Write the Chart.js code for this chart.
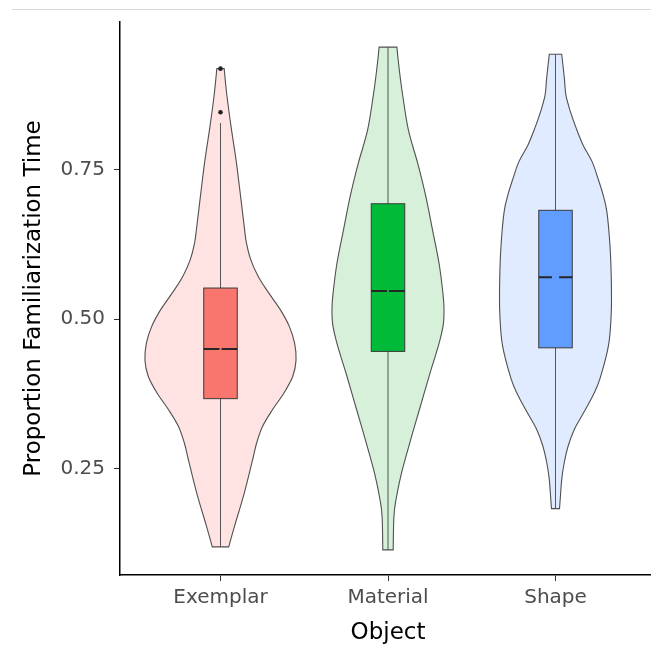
<!DOCTYPE html>
<html><head><meta charset="utf-8">
<script src="https://cdn.jsdelivr.net/npm/chart.js@4.4.1/dist/chart.umd.min.js"></script>
<style>
html,body{margin:0;padding:0;background:#fff;overflow:hidden;width:651px;height:655px;}
#wrap{position:absolute;left:0;top:0;width:660px;height:655px;}
#topline{position:absolute;left:12px;top:9px;width:639px;height:1px;background:#d9d9d9;}
</style></head><body>
<div id="wrap"><canvas id="c" width="660" height="655"></canvas></div>
<div id="topline"></div>
<script>
// ---- data ----
const categories = ['Exemplar', 'Material', 'Shape'];
const yTickValues = [0.25, 0.50, 0.75];

// violin outlines: value (y) and half-width (in category units)
const exemplarDensityY = [0.919,0.877,0.822,0.766,0.710,0.654,0.627,0.599,0.571,0.543,0.515,0.487,0.459,0.431,0.404,0.376,0.348,0.320,0.292,0.264,0.209,0.153,0.119];
const exemplarHalfWidth = [0.022,0.037,0.063,0.093,0.118,0.142,0.155,0.181,0.226,0.290,0.359,0.412,0.443,0.451,0.431,0.378,0.309,0.250,0.215,0.191,0.142,0.083,0.049];

const materialDensityY = [0.955,0.928,0.900,0.872,0.816,0.760,0.705,0.649,0.593,0.548,0.521,0.493,0.465,0.437,0.409,0.353,0.298,0.242,0.197,0.169,0.114];
const materialHalfWidth = [0.053,0.063,0.075,0.089,0.122,0.178,0.226,0.266,0.305,0.326,0.334,0.331,0.310,0.281,0.250,0.192,0.135,0.080,0.047,0.035,0.031];

const shapeDensityY = [0.943,0.903,0.875,0.847,0.819,0.791,0.763,0.735,0.707,0.679,0.624,0.568,0.512,0.457,0.401,0.373,0.345,0.317,0.289,0.261,0.234,0.206,0.183];
const shapeHalfWidth = [0.037,0.053,0.062,0.089,0.124,0.165,0.219,0.254,0.285,0.307,0.325,0.333,0.333,0.317,0.266,0.225,0.171,0.115,0.077,0.053,0.038,0.030,0.024];

// box plot statistics
const lowerWhisker = [0.119, 0.114, 0.183];
const q1Values     = [0.367, 0.446, 0.452];
const medianValues = [0.450, 0.547, 0.570];
const q3Values     = [0.552, 0.693, 0.682];
const upperWhisker = [0.828, 0.955, 0.943];
const exemplarOutliers = [0.846, 0.919];

// ---- styles ----
const violinFill = ['#FEE3E2', '#D7F0DA', '#E0EBFF'];
const boxFill = ['#F8766D', '#00BA38', '#619CFF'];
const medianGap = [0.012, 0.012, 0.043];
const boxHalf = 0.1;

const violins = [
  {y: exemplarDensityY, w: exemplarHalfWidth},
  {y: materialDensityY, w: materialHalfWidth},
  {y: shapeDensityY, w: shapeHalfWidth}
];

function smoothPath(ctx, pts, first) {
  if (first) ctx.moveTo(pts[0].x, pts[0].y); else ctx.lineTo(pts[0].x, pts[0].y);
  for (let i = 0; i < pts.length - 1; i++) {
    const p0 = pts[i - 1] || pts[i], p1 = pts[i], p2 = pts[i + 1], p3 = pts[i + 2] || p2;
    ctx.bezierCurveTo(p1.x + (p2.x - p0.x) / 6, p1.y + (p2.y - p0.y) / 6,
                      p2.x - (p3.x - p1.x) / 6, p2.y - (p3.y - p1.y) / 6, p2.x, p2.y);
  }
}

const violinPlugin = {
  id: 'violinBox',
  beforeDatasetsDraw(chart) {
    const ctx = chart.ctx, xs = chart.scales.x, ys = chart.scales.y;
    ctx.save();
    violins.forEach((v, i) => {
      const cx = i + 1;
      const idx = v.y.map((_, k) => k).sort((a, b) => v.y[a] - v.y[b]);
      const right = idx.map(k => ({x: xs.getPixelForValue(cx + v.w[k]), y: ys.getPixelForValue(v.y[k])}));
      const left = idx.slice().reverse().map(k => ({x: xs.getPixelForValue(cx - v.w[k]), y: ys.getPixelForValue(v.y[k])}));
      ctx.beginPath();
      smoothPath(ctx, right, true);
      smoothPath(ctx, left, false);
      ctx.closePath();
      ctx.fillStyle = violinFill[i];
      ctx.fill();
      ctx.lineWidth = 1.1;
      ctx.strokeStyle = '#505050';
      ctx.stroke();

      // whisker
      const px = xs.getPixelForValue(cx);
      ctx.beginPath();
      ctx.moveTo(px, ys.getPixelForValue(lowerWhisker[i]));
      ctx.lineTo(px, ys.getPixelForValue(upperWhisker[i]));
      ctx.strokeStyle = '#555';
      ctx.lineWidth = 1;
      ctx.stroke();

      // box
      const bl = xs.getPixelForValue(cx - boxHalf), br = xs.getPixelForValue(cx + boxHalf);
      const bt = ys.getPixelForValue(q3Values[i]), bb = ys.getPixelForValue(q1Values[i]);
      ctx.fillStyle = boxFill[i];
      ctx.fillRect(bl, bt, br - bl, bb - bt);
      ctx.strokeStyle = '#3a3a3a';
      ctx.lineWidth = 1;
      ctx.strokeRect(bl, bt, br - bl, bb - bt);

      // median
      const my = ys.getPixelForValue(medianValues[i]);
      const g1 = xs.getPixelForValue(cx - medianGap[i] / 2), g2 = xs.getPixelForValue(cx + medianGap[i] / 2);
      ctx.beginPath();
      ctx.moveTo(bl, my); ctx.lineTo(g1, my);
      ctx.moveTo(g2, my); ctx.lineTo(br, my);
      ctx.strokeStyle = '#262626';
      ctx.lineWidth = 2;
      ctx.stroke();
    });
    ctx.restore();
  }
};

const tickFont = {family: 'DejaVu Sans', size: 20};
const titleFont = {family: 'DejaVu Sans', size: 23};

new Chart(document.getElementById('c'), {
  type: 'scatter',
  data: {
    datasets: [{
      label: 'Outliers',
      data: exemplarOutliers.map(v => ({x: 1, y: v})),
      pointRadius: 2.3,
      pointBackgroundColor: '#222',
      pointBorderWidth: 0
    }]
  },
  options: {
    responsive: false,
    animation: false,
    layout: {padding: {top: 22, right: 0, bottom: 0, left: 0}},
    plugins: {legend: {display: false}, tooltip: {enabled: false}},
    scales: {
      x: {
        type: 'linear', min: 0.4, max: 3.6,
        afterBuildTicks: s => { s.ticks = categories.map((c, i) => ({value: i + 1})); },
        afterFit: s => { s.height = 80; },
        ticks: {callback: v => categories[v - 1], font: tickFont, color: '#4d4d4d', padding: 5, autoSkip: false, maxRotation: 0},
        grid: {drawOnChartArea: false, drawTicks: true, tickLength: 6, color: '#333', lineWidth: 1},
        border: {display: true, color: '#000', width: 1.5},
        title: {display: true, text: 'Object', font: titleFont, color: '#000', padding: {top: 0, bottom: 8}}
      },
      y: {
        type: 'linear', min: 0.072, max: 0.997,
        afterBuildTicks: s => { s.ticks = yTickValues.map(v => ({value: v})); },
        afterFit: s => { s.width = 120; },
        ticks: {callback: v => v.toFixed(2), font: tickFont, color: '#4d4d4d', padding: 9},
        grid: {drawOnChartArea: false, drawTicks: true, tickLength: 6, color: '#333', lineWidth: 1},
        border: {display: true, color: '#000', width: 1.5},
        title: {display: true, text: 'Proportion Familiarization Time', font: titleFont, color: '#000', padding: {top: 20, bottom: 0}}
      }
    }
  },
  plugins: [violinPlugin]
});
</script>
</body></html>
